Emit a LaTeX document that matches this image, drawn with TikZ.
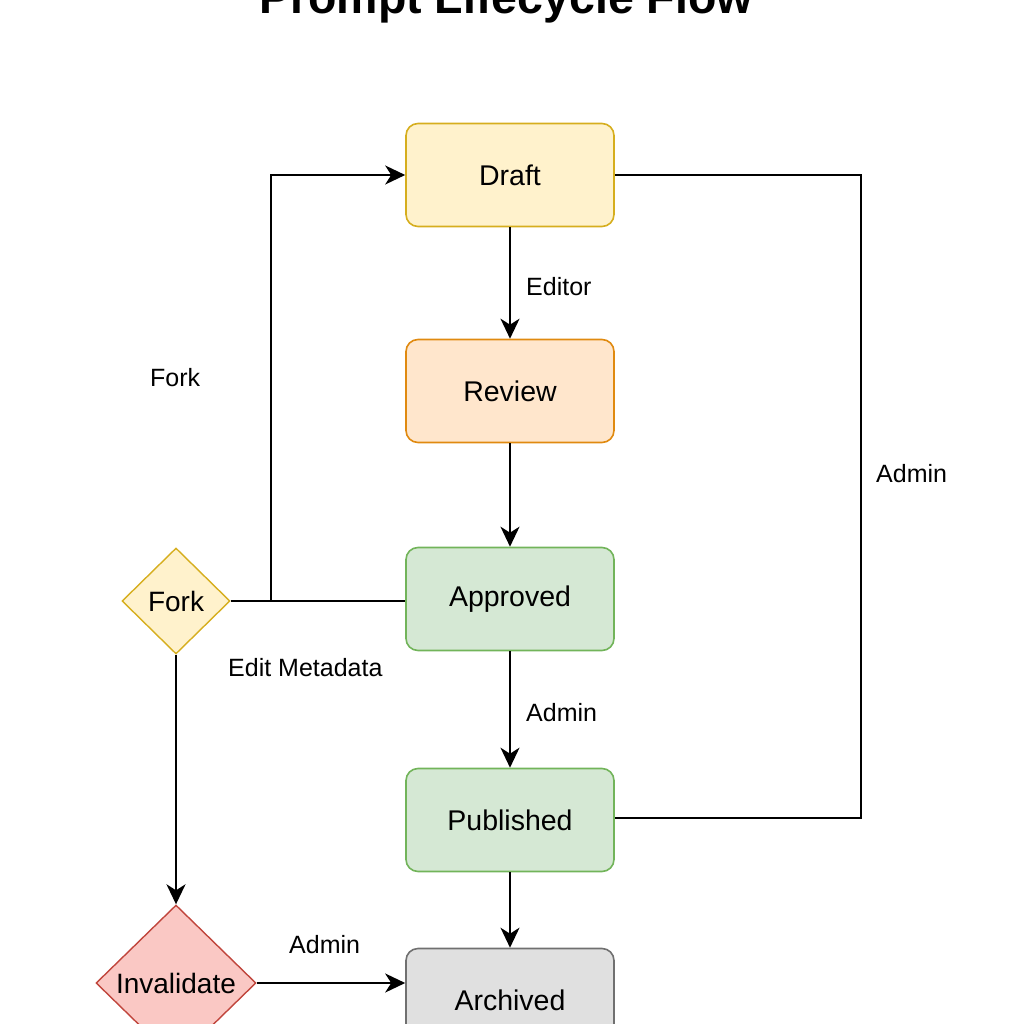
\documentclass[tikz,border=0pt]{standalone}
\usepackage{fontspec}
\setmainfont{Liberation Sans}
\usetikzlibrary{shapes.geometric,arrows.meta}
\definecolor{yfill}{HTML}{FFF2CC}\definecolor{ydraw}{HTML}{D6AE1E}
\definecolor{ofill}{HTML}{FFE6CC}\definecolor{odraw}{HTML}{E08A10}
\definecolor{gfill}{HTML}{D5E8D4}\definecolor{gdraw}{HTML}{72B45A}
\definecolor{afill}{HTML}{E0E0E0}\definecolor{adraw}{HTML}{707070}
\definecolor{rfill}{HTML}{FAC8C4}\definecolor{rdraw}{HTML}{C0453C}
\tikzset{
  state/.style={rectangle,rounded corners=12pt,minimum width=208pt,minimum height=103pt,line width=1.6pt,font=\fontsize{28.5}{32}\selectfont,inner sep=0pt},
  dec/.style={diamond,inner sep=0pt,line width=1.4pt,font=\fontsize{28}{32}\selectfont},
  conn/.style={line width=2.2pt,black},
  arr/.style={conn,-{Stealth[length=20pt,width=19pt,inset=6pt]}},
  lbl/.style={font=\fontsize{25}{30}\selectfont,inner sep=0pt}
}
\begin{document}
\begin{tikzpicture}[x=1pt,y=-1pt]
\useasboundingbox (0,0) rectangle (1024,1024);
\node[anchor=base,font=\fontsize{46.5}{50}\selectfont\bfseries,inner sep=0pt] (title) at (506,14) {Prompt Lifecycle Flow};
\node[state,fill=yfill,draw=ydraw] (draft) at (510,175) {Draft};
\node[state,fill=ofill,draw=odraw] (review) at (510,391) {Review};
\node[state,fill=gfill,draw=gdraw] (approved) at (510,599) {Approved};
\node[state,fill=gfill,draw=gdraw] (published) at (510,820) {Published};
\node[state,fill=afill,draw=adraw] (archived) at (510,1000) {Archived};
\node[dec,fill=yfill,draw=ydraw,minimum width=108pt,minimum height=106pt] (fork) at (176,601) {Fork};
\node[dec,fill=rfill,draw=rdraw,minimum width=160pt,minimum height=156pt] (inval) at (176,983) {Invalidate};
\coordinate (jn) at (271,600);
\coordinate (rt) at (861,175);
\coordinate (rb) at (861,818);
\draw[arr] (draft) -- (review);
\draw[arr] (review) -- (approved);
\draw[arr] (approved) -- (published);
\draw[arr] (published) -- (archived);
\draw[conn] (draft.east) -- (rt) -- (rb) -- (published.east |- rb);
\draw[conn] (fork.east) -- (approved.west |- fork.east);
\draw[arr] (jn) -- (jn |- draft.west) -- (draft.west);
\draw[arr] (fork.south) -- (inval.north);
\draw[arr] (inval.east) -- (archived.west |- inval.east);
\node[lbl,anchor=west] (l1) at (526,287) {Editor};
\node[lbl,anchor=west] (l2) at (526,713) {Admin};
\node[lbl,anchor=west] (l3) at (876,474) {Admin};
\node[lbl,anchor=west] (l4) at (150,378) {Fork};
\node[lbl,anchor=west] (l5) at (228,668) {Edit Metadata};
\node[lbl,anchor=west] (l6) at (289,945) {Admin};
\end{tikzpicture}
\end{document}
